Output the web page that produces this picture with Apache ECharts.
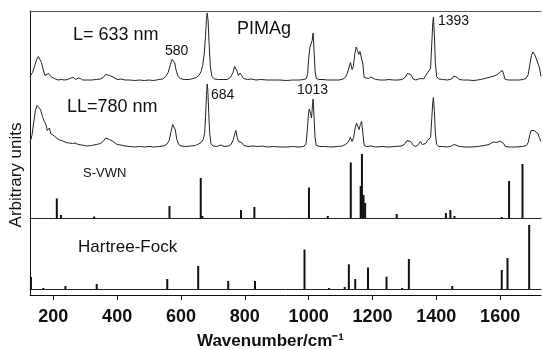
<!DOCTYPE html>
<html>
<head>
<meta charset="utf-8">
<script src="https://cdn.jsdelivr.net/npm/echarts@6/dist/echarts.min.js"></script>
<style>
html,body{margin:0;padding:0;background:#fff;}
#chart{width:542px;height:349px;}
</style>
</head>
<body>
<div id="chart"></div>
<script>
// x axis
var xMin = 127, xMax = 1728;
var tickValues = [200, 400, 600, 800, 1000, 1200, 1400, 1600];

// Experimental Raman spectrum, L = 633 nm  [wavenumber, intensity (arb.)]
var exp633 = [[127,4],[135,8],[142,15],[148,21],[153,24],[158,23],[163,18],[168,11],[174,5],[180,4],[185,7],[188,7.5],[192,4],[198,2],[206,1.5],[215,0.5],[225,1],[235,0.5],[245,1],[255,2.5],[262,3],[270,1],[278,2.5],[285,2],[292,0.5],[305,0.5],[320,0.5],[335,1],[348,1.5],[356,3],[364,6],[370,7],[376,5],[382,3],[387,3.5],[393,2],[400,1],[412,1.5],[425,0.5],[440,0.5],[455,0],[470,0.5],[485,0],[500,0.5],[515,0],[530,1],[542,1.5],[552,4],[560,8],[567,16],[572,21],[576,22.5],[580,18],[585,10],[591,4],[598,2],[610,1],[625,1],[638,2],[648,3],[656,5],[663,9],[668,15],[673,27],[677,45],[680,62],[682,67.5],[685,60],[688,38],[692,14],[697,4],[705,1.5],[718,1],[732,1],[745,1],[755,3],[763,8],[768,14],[771,15.5],[775,10],[780,5],[785,7.5],[790,5],[796,2],[808,1],[820,1.5],[835,0.5],[850,1],[870,0.5],[890,0.5],[910,0.5],[930,0],[950,0.5],[970,0.5],[985,1],[993,2],[997,7],[1000,22],[1004,33],[1008,35],[1011,40],[1014,47.5],[1017,30],[1020,10],[1024,2],[1032,1],[1045,1],[1060,0.5],[1080,0.5],[1095,0.5],[1108,1.5],[1117,4],[1124,10],[1131,18],[1136,11],[1140,14],[1145,27],[1149,33.5],[1153,30],[1157,26],[1161,29],[1166,31],[1170,16],[1174,3],[1180,1.5],[1188,2],[1195,3.5],[1200,2],[1210,1],[1225,0.5],[1240,0.5],[1252,1],[1258,1.5],[1265,0.5],[1280,0.5],[1293,1],[1302,3],[1309,7],[1315,8.5],[1320,6],[1328,1.5],[1336,0.5],[1345,1.5],[1352,2],[1360,1.5],[1366,3],[1372,7.5],[1377,6],[1382,12],[1386,38],[1389,58],[1391,63.5],[1394,45],[1397,18],[1401,4],[1408,1.5],[1420,1],[1435,0.5],[1448,1.5],[1455,4.5],[1460,6],[1465,3],[1472,1],[1485,0.5],[1500,0.5],[1515,0],[1530,0.5],[1545,1.5],[1558,2.5],[1570,3.5],[1581,4.5],[1592,6],[1600,8.5],[1607,10],[1611,6],[1616,1],[1628,0.5],[1645,0.5],[1660,0.5],[1672,1],[1682,2.5],[1688,6],[1693,16],[1698,25],[1703,28.5],[1708,26],[1713,22],[1718,20],[1723,13],[1728,4]];

// Experimental Raman spectrum, LL = 780 nm
var exp780 = [[127,5],[133,12],[139,26],[144,37],[149,42],[155,42.5],[160,38],[166,31],[172,26],[177,23],[181,17],[185,18],[188,19.5],[192,14],[198,12],[205,11],[212,9],[220,7.5],[230,6.5],[240,5],[250,4.5],[260,4],[268,4.5],[278,3],[290,2.5],[305,1.5],[320,2],[335,3],[348,4],[356,6],[364,9.5],[370,11],[376,8],[382,6],[387,6],[393,4],[400,3],[412,2.5],[425,1.5],[440,1],[455,0.5],[470,1],[485,0.5],[500,1],[515,0.5],[530,1],[545,1.5],[555,3],[563,7],[569,16],[574,23],[578,25],[582,18],[587,8],[593,3],[600,1.5],[615,1],[630,1.5],[645,2],[655,3.5],[663,5],[670,8],[674,14],[677,30],[680,52],[682,63.5],[684,58],[687,35],[690,14],[694,4],[700,1.5],[712,1],[725,2.5],[735,1],[748,1.5],[757,3],[764,8],[769,14],[772,17],[776,10],[780,6],[785,8],[790,5],[797,2],[810,1],[825,1.5],[840,1],[855,1.5],[870,0.5],[890,1],[910,0.5],[930,0.5],[950,1],[970,0.5],[985,1],[992,4],[996,18],[999,32],[1002,38.5],[1006,34],[1009,29.5],[1012,42],[1014,48.5],[1017,30],[1020,10],[1024,2],[1035,1],[1050,1],[1070,0.5],[1090,1],[1105,1.5],[1115,3],[1123,5],[1131,10],[1136,6],[1141,10],[1146,20],[1150,24.5],[1154,21],[1158,18],[1162,23],[1166,26],[1170,14],[1174,2],[1182,1],[1195,1.5],[1210,0.5],[1230,1],[1250,0.5],[1270,1],[1290,1.5],[1300,3],[1308,7],[1314,9],[1320,6],[1328,2],[1336,1],[1344,3],[1350,6],[1356,3],[1362,2],[1367,4],[1372,7],[1377,6],[1382,10],[1386,30],[1389,46],[1391,50],[1394,36],[1397,14],[1401,3],[1408,1],[1420,1],[1435,0.5],[1448,1.5],[1455,3],[1460,4.5],[1465,2],[1472,1],[1490,0.5],[1510,0.5],[1530,1],[1550,2],[1565,3],[1578,5.5],[1590,5],[1600,6.5],[1606,7],[1611,4],[1616,1],[1630,0.5],[1650,0.5],[1670,1],[1682,2],[1688,5],[1693,13],[1697,17],[1701,18],[1707,17],[1713,15.5],[1718,14],[1723,10],[1728,6]];

// Calculated spectra: [wavenumber, intensity]
var svwn = [[211,19.5],[224,3],[328,1.5],[564,12],[662,40],[667,2],[788,8],[830,11],[1001,30.5],[1060,2],[1132,55.5],[1163,32],[1167,64],[1172,23],[1177,15],[1276,4],[1430,5],[1444,8],[1457,2],[1605,1],[1628,37],[1670,54]];
var hartreeFock = [[130,12],[169,1],[238,3],[336,5],[557,10],[654,23],[748,8],[832,8],[987,39.5],[1064,1],[1113,2],[1126,24.7],[1146,10],[1186,21.5],[1244,12.3],[1293,1],[1314,30],[1450,3],[1605,19],[1623,31],[1691,64]];

var FONT = "'Liberation Sans', Arial, sans-serif";
var chart = echarts.init(document.getElementById('chart'), null, {renderer: 'canvas'});

function subX(gi, showLine) {
  return {type: 'value', gridIndex: gi, min: xMin, max: xMax, show: true,
    axisLine: {show: showLine, onZero: false, lineStyle: {color: '#222', width: 1}},
    axisTick: {show: false}, axisLabel: {show: false}, splitLine: {show: false}};
}
function subY(gi) {
  return {type: 'value', gridIndex: gi, min: 0, max: 70, show: false,
    axisLine: {show: false}, axisTick: {show: false}, axisLabel: {show: false}, splitLine: {show: false}};
}
function txt(str, x, y, size, weight) {
  return {type: 'text', x: x, y: y, silent: true, style: {text: str, fill: '#111',
    font: (weight || 'normal') + ' ' + size + 'px ' + FONT,
    textAlign: 'left', textVerticalAlign: 'middle', align: 'left', verticalAlign: 'middle'}};
}
function grid(o) { o.left = 30; o.right = 1; o.containLabel = false; o.outerBoundsMode = 'none'; return o; }

var option = {
  backgroundColor: '#fff',
  animation: false,
  grid: [
    grid({top: 11, bottom: 54}),
    grid({top: 10.5, height: 70}),
    grid({top: 77.5, height: 70}),
    grid({top: 148, height: 70}),
    grid({top: 219, height: 70})
  ],
  xAxis: [
    {type: 'value', gridIndex: 0, min: xMin, max: xMax, position: 'bottom',
      name: 'Wavenumber/cm\u207B\u00B9', nameLocation: 'middle', nameGap: 38, nameMoveOverlap: false,
      nameTextStyle: {fontFamily: FONT, fontSize: 17, fontWeight: 'bold', color: '#111', padding: [0, 30, 0, 0]},
      axisLine: {show: true, onZero: false, lineStyle: {color: '#111', width: 1}},
      axisTick: {show: true, inside: false, length: 5, customValues: tickValues, lineStyle: {color: '#111'}},
      axisLabel: {show: true, customValues: tickValues, margin: 13, fontFamily: FONT, fontSize: 18, fontWeight: 'bold', color: '#111',
        formatter: function (v) { return String(v); }},
      splitLine: {show: false}},
    {type: 'value', gridIndex: 0, min: xMin, max: xMax, position: 'top',
      axisLine: {show: true, onZero: false, lineStyle: {color: '#555', width: 1}},
      axisTick: {show: false}, axisLabel: {show: false}, splitLine: {show: false}},
    subX(1, false), subX(2, false), subX(3, true), subX(4, true)
  ],
  yAxis: [
    {type: 'value', gridIndex: 0, min: 0, max: 1, position: 'left',
      name: 'Arbitrary units', nameLocation: 'middle', nameGap: 5, nameMoveOverlap: false,
      nameTextStyle: {fontFamily: FONT, fontSize: 17, color: '#111', padding: [0, 44, 0, 0]},
      axisLine: {show: true, onZero: false, lineStyle: {color: '#111', width: 1}},
      axisTick: {show: false}, axisLabel: {show: false}, splitLine: {show: false}},
    subY(1), subY(2), subY(3), subY(4)
  ],
  series: [
    {name: 'L= 633 nm', type: 'line', xAxisIndex: 2, yAxisIndex: 1, data: exp633, showSymbol: false, symbol: 'none',
      lineStyle: {color: '#222', width: 1}, clip: false},
    {name: 'LL=780 nm', type: 'line', xAxisIndex: 3, yAxisIndex: 2, data: exp780, showSymbol: false, symbol: 'none',
      lineStyle: {color: '#222', width: 1}, clip: false},
    {name: 'S-VWN', type: 'bar', xAxisIndex: 4, yAxisIndex: 3, data: svwn, barWidth: 2,
      itemStyle: {color: '#111'}},
    {name: 'Hartree-Fock', type: 'bar', xAxisIndex: 5, yAxisIndex: 4, data: hartreeFock, barWidth: 2,
      itemStyle: {color: '#111'}}
  ],
  graphic: [
    txt('L= 633 nm', 73, 35.5, 18),
    txt('PIMAg', 237, 29.5, 18),
    txt('580', 165, 51.5, 14),
    txt('684', 211, 95, 14),
    txt('1013', 297, 90, 14),
    txt('1393', 438, 21.5, 14),
    txt('LL=780 nm', 67, 107, 18),
    txt('S-VWN', 83, 173.5, 13),
    txt('Hartree-Fock', 78, 247, 17)
  ]
};
chart.setOption(option);
</script>
</body>
</html>
